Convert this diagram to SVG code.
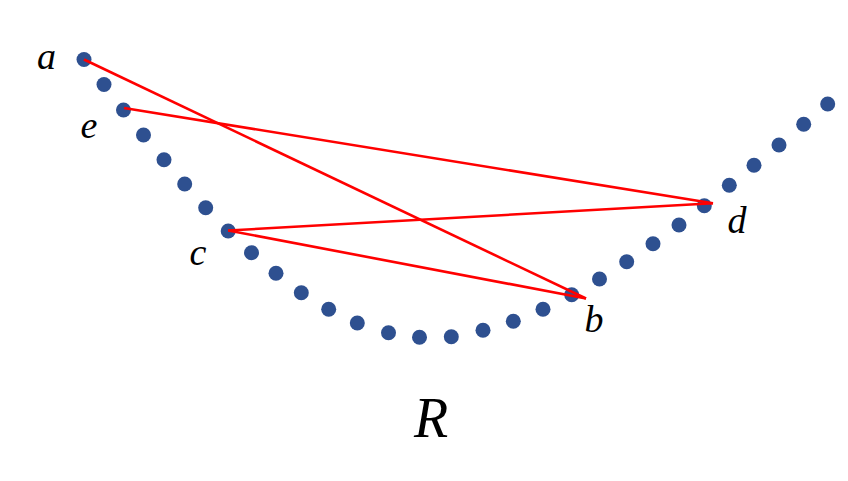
<svg xmlns="http://www.w3.org/2000/svg" width="848" height="481" viewBox="0 0 848 481">
<style>
.dot{fill:#2E5090}
.ln{stroke:#FF0000;stroke-width:2.6;fill:none;stroke-linecap:butt}
.lbl{font-family:"Liberation Serif","DejaVu Serif",serif;font-style:italic;font-size:38px;fill:#000;text-anchor:middle}
</style>
<rect width="848" height="481" fill="#fff"/>
<g id="curve">
<circle class="dot" cx="84" cy="59.5" r="7.5"/>
<circle class="dot" cx="104" cy="84.5" r="7.5"/>
<circle class="dot" cx="123.5" cy="110" r="7.5"/>
<circle class="dot" cx="143.5" cy="135" r="7.5"/>
<circle class="dot" cx="164" cy="159.7" r="7.5"/>
<circle class="dot" cx="184.7" cy="184" r="7.5"/>
<circle class="dot" cx="205.7" cy="207.7" r="7.5"/>
<circle class="dot" cx="228.2" cy="231" r="7.5"/>
<circle class="dot" cx="251.5" cy="252.7" r="7.5"/>
<circle class="dot" cx="276" cy="273.3" r="7.5"/>
<circle class="dot" cx="301.3" cy="292.7" r="7.5"/>
<circle class="dot" cx="328.7" cy="309.3" r="7.5"/>
<circle class="dot" cx="357.3" cy="323" r="7.5"/>
<circle class="dot" cx="388.5" cy="332.7" r="7.5"/>
<circle class="dot" cx="419.5" cy="337.3" r="7.5"/>
<circle class="dot" cx="451.3" cy="336.7" r="7.5"/>
<circle class="dot" cx="483" cy="330.3" r="7.5"/>
<circle class="dot" cx="513.3" cy="321.3" r="7.5"/>
<circle class="dot" cx="543" cy="309.3" r="7.5"/>
<circle class="dot" cx="571.7" cy="294.7" r="7.5"/>
<circle class="dot" cx="599.5" cy="279" r="7.5"/>
<circle class="dot" cx="626.7" cy="261.7" r="7.5"/>
<circle class="dot" cx="653" cy="243.7" r="7.5"/>
<circle class="dot" cx="679" cy="225" r="7.5"/>
<circle class="dot" cx="704.3" cy="205.7" r="7.5"/>
<circle class="dot" cx="729.3" cy="185.3" r="7.5"/>
<circle class="dot" cx="754" cy="165.3" r="7.5"/>
<circle class="dot" cx="779" cy="145" r="7.5"/>
<circle class="dot" cx="803.7" cy="124.3" r="7.5"/>
<circle class="dot" cx="827.7" cy="104" r="7.5"/>
</g>
<g id="connectors">
<line class="ln" x1="84" y1="59.5" x2="586" y2="298.5"/>
<line class="ln" x1="124" y1="108" x2="713" y2="203.3"/>
<line class="ln" x1="228.2" y1="230.5" x2="713" y2="203.3"/>
<line class="ln" x1="228.2" y1="230.5" x2="586" y2="298.5"/>
</g>
<g id="labels">
<text class="lbl" x="46.5" y="69">a</text>
<text class="lbl" x="89" y="138">e</text>
<text class="lbl" x="198" y="265">c</text>
<text class="lbl" x="594" y="331.5">b</text>
<text class="lbl" x="737" y="232.5">d</text>
<text class="lbl" x="431" y="437" style="font-size:56px">R</text>
</g>
</svg>
